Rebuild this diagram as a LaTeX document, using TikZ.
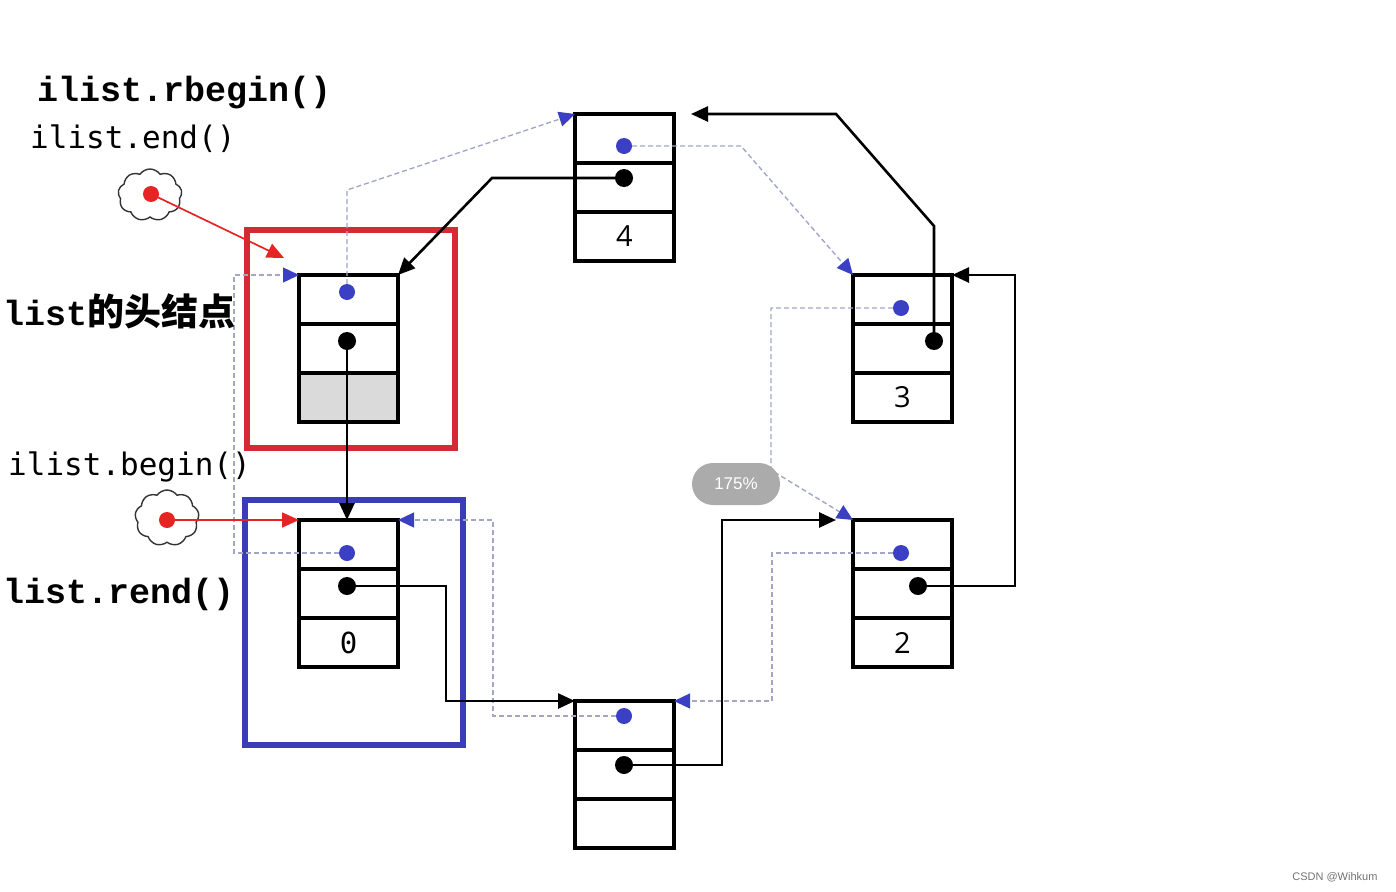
\documentclass[tikz,border=0pt]{standalone}
\usepackage{fontspec}
\setmainfont{DejaVu Sans}
\newfontfamily\lmono{Liberation Mono}
\newfontfamily\dmono{DejaVu Sans Mono}
\newfontfamily\cjk{Noto Sans CJK SC}
\newfontfamily\lsans{Liberation Sans}
\newfontfamily\osans{Open Sans}
\usetikzlibrary{arrows.meta,shapes.symbols,calc}
\definecolor{frred}{HTML}{D52A34}
\definecolor{frblue}{HTML}{3A3DB5}
\definecolor{dotblue}{HTML}{3B3FC4}
\definecolor{dashc}{HTML}{A4A6C6}
\definecolor{redarr}{HTML}{E52424}
\definecolor{cellgray}{HTML}{DADADA}
\definecolor{pillgray}{HTML}{ABABAB}
\pgfdeclarelayer{fg}
\pgfsetlayers{main,fg}
\begin{document}
\begin{tikzpicture}[x=1pt,y=-1pt,
  cell/.style={draw, line width=3.2pt, minimum width=99pt, minimum height=49pt, inner sep=0pt, outer sep=0pt, anchor=north west},
  numfont/.style={font=\osans\fontsize{29}{29}\selectfont},
  bdot/.style={circle, fill=dotblue, minimum size=16pt, inner sep=0pt},
  kdot/.style={circle, fill=black, minimum size=18pt, inner sep=0pt},
  rdot/.style={circle, fill=redarr, minimum size=16pt, inner sep=0pt},
  ptr/.style={draw, line width=2.6pt, -{Triangle[length=17pt,width=15pt]}},
  dsh/.style={draw=dashc, line width=1.4pt, dash pattern=on 5pt off 3pt, -{Triangle[length=16pt,width=15pt,color=dotblue]}},
  redptr/.style={draw=redarr, line width=1.7pt, -{Triangle[length=17pt,width=15pt]}},
  frame/.style={draw, line width=6pt, inner sep=0pt, outer sep=0pt, anchor=north west},
  cloudn/.style={cloud, draw=black!80, line width=1.4pt, cloud puffs=9, cloud puff arc=110, cloud ignores aspect, minimum width=64pt, minimum height=52pt, inner sep=0pt},
  bigmono/.style={anchor=base west, inner sep=0pt, font=\lmono\bfseries\fontsize{35}{35}\selectfont},
  smallmono/.style={anchor=base west, inner sep=0pt, font=\dmono\fontsize{31}{31}\selectfont}
]
\fill[white] (0,0) rectangle (1396,891);
\useasboundingbox (0,0) rectangle (1396,891);

% frames
\node[frame, draw=frred, minimum width=208pt, minimum height=218pt] (redframe) at (247,230) {};
\node[frame, draw=frblue, line width=5.5pt, minimum width=218pt, minimum height=245pt] (blueframe) at (245,500) {};

% head node
\node[cell] (h1) at (299,275) {};
\node[cell] (h2) at (299,324) {};
\node[cell, fill=cellgray] (h3) at (299,373) {};
% node 0
\node[cell] (z1) at (299,520) {};
\node[cell] (z2) at (299,569) {};
\node[cell, font=\dmono\fontsize{29}{29}\selectfont] (z3) at (299,618) {0};
% node 4
\node[cell] (f1) at (575,114) {};
\node[cell] (f2) at (575,163) {};
\node[cell, numfont] (f3) at (575,212) {4};
% node 3
\node[cell] (t1) at (853,275) {};
\node[cell] (t2) at (853,324) {};
\node[cell, numfont] (t3) at (853,373) {3};
% node 2
\node[cell] (w1) at (853,520) {};
\node[cell] (w2) at (853,569) {};
\node[cell, numfont] (w3) at (853,618) {2};
% bottom node
\node[cell] (b1) at (575,701) {};
\node[cell] (b2) at (575,750) {};
\node[cell] (b3) at (575,799) {};

% clouds
\node[cloudn] (c1) at (150,195) {};
\node[cloudn, minimum height=56pt] (c2) at (167,518) {};

\begin{pgfonlayer}{fg}
\node[bdot] (hB) at (347,292) {};
\node[kdot] (hK) at (347,341) {};
\node[bdot] (zB) at (347,553) {};
\node[kdot] (zK) at (347,586) {};
\node[bdot] (fB) at (624,146) {};
\node[kdot] (fK) at (624,178) {};
\node[bdot] (tB) at (901,308) {};
\node[kdot] (tK) at (934,341) {};
\node[bdot] (wB) at (901,553) {};
\node[kdot] (wK) at (918,586) {};
\node[bdot] (bB) at (624,716) {};
\node[kdot] (bK) at (624,765) {};
\node[rdot] (r1) at (151,194) {};
\node[rdot] (r2) at (167,520) {};
\node[fill=pillgray, rounded corners=21pt, minimum width=88pt, minimum height=42pt, text=white, font=\lsans\fontsize{17}{17}\selectfont] (pill) at (736,484) {175\%};
\end{pgfonlayer}

% dashed (previous) links
\draw[dsh] (hB.center) -- (347,190) -- (f1.north west);
\draw[dsh] (fB.center) -- (741,146) -- (t1.north west);
\draw[dsh] (tB.center) -- (771,308) -- (771,470) -- (w1.north west);
\draw[dsh] (wB.center) -- (772,553) -- (772,701) -- (b1.north east);
\draw[dsh] (bB.center) -- (493,716) -- (493,520) -- (z1.north east);
\draw[dsh] (zB.center) -- (234,553) -- (234,275) -- (h1.north west);

% solid (next) links
\draw[ptr] (hK.center) -- (hK.center |- z1.north);
\draw[ptr] (fK.center) -- (492,178) -- (h1.north east);
\draw[ptr] (tK.center) -- (934,226) -- (836,114) -- ($(f1.north east)+(17,0)$);
\draw[ptr] (wK.center) -- (1015,586) -- (1015,275) -- (t1.north east);
\draw[ptr] (zK.center) -- (446,586) -- (446,701) -- (b1.north west);
\draw[ptr] (bK.center) -- (722,765) -- (722,520) -- ($(w1.north west)+(-17,0)$);

% red iterator arrows
\draw[redptr] (r1.center) -- ($(h1.north west)+(-15,-17)$);
\draw[redptr] (r2.center) -- (z1.north west);

% labels
\node[bigmono] (lrbegin) at (37,101) {ilist.rbegin()};
\node[smallmono] (lend) at (30,148) {ilist.end()};
\node[anchor=base west, inner sep=0pt] (lhead) at (3,325) {{\lmono\bfseries\fontsize{35}{35}\selectfont list}{\cjk\bfseries\fontsize{37}{37}\selectfont 的头结点}};
\node[smallmono] (lbegin) at (8,475) {ilist.begin()};
\node[bigmono] (lrend) at (3,603) {list.rend()};

\node[anchor=east, text=black!55, font=\lsans\fontsize{11}{11}\selectfont] (wm) at (1381,877) {CSDN @Wihkum};
\end{tikzpicture}
\end{document}
